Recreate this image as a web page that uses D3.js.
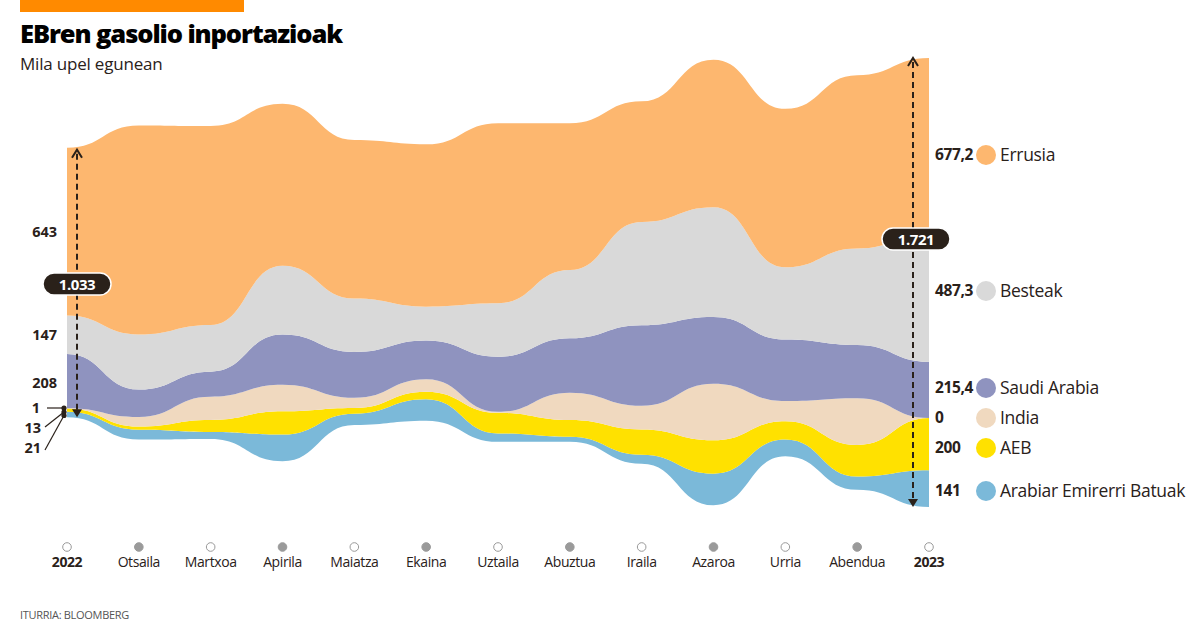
<!DOCTYPE html>
<html><head><meta charset="utf-8">
<script src="https://cdn.jsdelivr.net/npm/d3@7"></script>
<style>
html,body{margin:0;padding:0;background:#fff;}
svg{display:block;font-family:"Open Sans",sans-serif;}
</style></head>
<body>
<svg id="c" width="1200" height="630"></svg>
<script>
const months = ["2022","Otsaila","Martxoa","Apirila","Maiatza","Ekaina","Uztaila","Abuztua","Iraila","Azaroa","Urria","Abendua","2023"];
const keys = ["uae","aeb","india","saudi","besteak","russia"];
const names = ["Arabiar Emirerri Batuak","AEB","India","Saudi Arabia","Besteak","Errusia"];
const colors = ["#7bb9d9","#ffe100","#f0d9bf","#8f93bf","#d9d9d9","#fdb76f"];
const russia  = [643, 801, 762, 620, 607, 622, 690, 562, 462, 565, 607, 664, 677.2];
const besteak = [147, 211, 179, 264, 205, 130, 205, 262, 396, 421, 277, 370, 487.3];
const saudi   = [208, 105,  96, 192, 175, 148, 211, 208, 308, 255, 236, 204, 215.4];
const india   = [  1,  37,  89, 102,  39,  48,   4, 105,  91, 217,  77, 179, 0];
const aeb     = [ 13,  12,  46,  89,  22,  29,  79,  64,  97, 128,  70, 121, 200];
const uae     = [ 21,  38,  27, 102,  43,  82,  32,  19,  34, 121,  64,  51, 141];
const startLabels = ["21","13","1","208","147","643"];
const endLabels = ["141","200","0","215,4","487,3","677,2"];
const totalLabels = ["1.033","1.721"];

const series = {russia, besteak, saudi, india, aeb, uae};
const table = months.map((m,i)=>{const o={i}; keys.forEach(k=>o[k]=series[k][i]); return o;});

const svg = d3.select("#c");
const ink = "#2a211a";

// header
svg.append("rect").attr("x",20).attr("y",0).attr("width",224).attr("height",12).attr("fill","#ff8a00");
svg.append("text").attr("x",20).attr("y",43).text("EBren gasolio inportazioak")
  .attr("font-size",25.5).attr("font-weight",800).attr("fill","#000").attr("letter-spacing",-1.1);
svg.append("text").attr("x",20).attr("y",70).text("Mila upel egunean")
  .attr("font-size",17).attr("font-weight",400).attr("fill",ink).attr("letter-spacing",-0.2);

const x = d3.scaleLinear().domain([0,12]).range([67,929]);
const y = d3.scaleLinear().domain([-1000,1000]).range([282.5+261, 282.5-261]);

const stack = d3.stack().keys(keys).order(d3.stackOrderNone).offset(d3.stackOffsetSilhouette);
const layers = stack(table);

const area = d3.area().x(d=>x(d.data.i)).y0(d=>y(d[0])).y1(d=>y(d[1])).curve(d3.curveBumpX);
svg.append("g").selectAll("path").data(layers).join("path")
  .attr("d",area).attr("fill",(d,i)=>colors[i]);

// x axis
const ax = svg.append("g");
months.forEach((m,i)=>{
  ax.append("circle").attr("cx",x(i)).attr("cy",547).attr("r",4.3)
    .attr("fill", i%2? "#9a9a9a":"#fff").attr("stroke","#9a9a9a").attr("stroke-width",1);
  ax.append("text").attr("x",x(i)).attr("y",567).attr("text-anchor","middle").text(m)
    .attr("font-size",14).attr("fill",ink).attr("letter-spacing",-0.4)
    .attr("font-weight",(i===0||i===12)?700:400);
});

// total arrows
const first = layers.map(l=>l[0]), last = layers.map(l=>l[12]);
function arrow(xp, top, bot){
  svg.append("line").attr("x1",xp).attr("x2",xp).attr("y1",top+4).attr("y2",bot-4)
    .attr("stroke",ink).attr("stroke-width",2).attr("stroke-dasharray","6,4");
  svg.append("path").attr("d",`M${xp-5},${top+8}L${xp},${top}L${xp+5},${top+8}`).attr("fill","none").attr("stroke",ink).attr("stroke-width",2);
  svg.append("path").attr("d",`M${xp-5},${bot-8}L${xp},${bot}L${xp+5},${bot-8}Z`).attr("fill",ink);
}
arrow(x(0)+10, y(first[5][1])+2, y(first[0][0]));
arrow(x(12)-16, y(last[5][1]), y(last[0][0]));
function pill(cx, cy, txt){
  svg.append("rect").attr("x",cx-34).attr("y",cy-11).attr("width",68).attr("height",22).attr("rx",11)
    .attr("fill",ink).attr("stroke","#fff").attr("stroke-width",1.5);
  svg.append("text").attr("x",cx).attr("y",cy+5.5).attr("text-anchor","middle").text(txt)
    .attr("fill","#fff").attr("font-size",15).attr("font-weight",700).attr("letter-spacing",-0.4);
}
pill(77, 284, totalLabels[0]);
pill(916, 239, totalLabels[1]);

// start labels
const sl = svg.append("g").attr("font-size",14.5).attr("font-weight",700).attr("fill",ink);
[5,4,3].forEach(k=>{
  const mid = (y(first[k][0])+y(first[k][1]))/2;
  const yy = mid+5 + (k===3?2:0);
  sl.append("text").attr("x",57).attr("y",yy).attr("text-anchor","end").text(startLabels[k]);
});
const small = [{k:2,ty:413,tx:40,ly:408},{k:1,ty:433,tx:41,ly:412},{k:0,ty:453,tx:41,ly:415.5}];
small.forEach((s,j)=>{
  sl.append("text").attr("x",s.tx).attr("y",s.ty).attr("text-anchor","end").text(startLabels[s.k]);
  const x2 = j===0? 47 : 45, y2 = j===0? 408 : s.ty-6+ (j===2?3:0);
  svg.append("line").attr("x1",x2).attr("y1",j===0?408:y2).attr("x2",64).attr("y2",s.ly)
    .attr("stroke",ink).attr("stroke-width",1.2);
  svg.append("circle").attr("cx",64).attr("cy",s.ly).attr("r",2.6).attr("fill",ink);
});

// end legend
const legY = [491,448,418,388,291,155];
const lg = svg.append("g");
keys.forEach((k,i)=>{
  lg.append("text").attr("x",935).attr("y",legY[i]+5).text(endLabels[i])
    .attr("font-size",15.5).attr("font-weight",700).attr("fill",ink).attr("letter-spacing",-0.4);
  lg.append("circle").attr("cx",986).attr("cy",legY[i]).attr("r",10).attr("fill",colors[i]);
  lg.append("text").attr("x",1000).attr("y",legY[i]+6).text(names[i])
    .attr("font-size",17.5).attr("fill",ink).attr("letter-spacing",-0.3);
});

svg.append("text").attr("x",20).attr("y",619).text("ITURRIA: BLOOMBERG")
  .attr("font-size",11).attr("fill","#555").attr("letter-spacing",-0.3);
</script>
</body></html>
